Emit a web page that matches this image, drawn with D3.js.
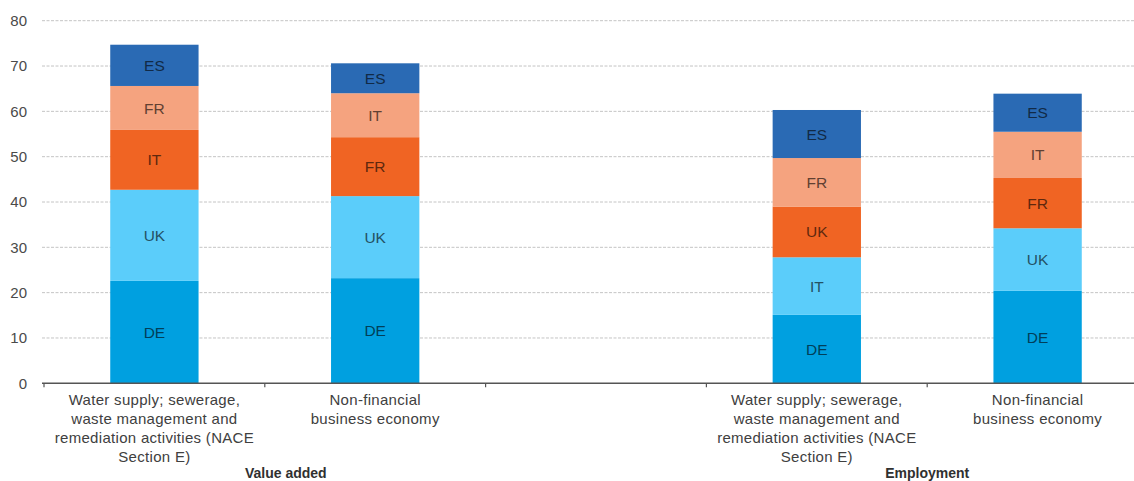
<!DOCTYPE html>
<html>
<head>
<meta charset="utf-8">
<script src="https://cdn.jsdelivr.net/npm/d3@7"></script>
<style>
  body { margin: 0; background: #fff; }
  text { font-family: "Liberation Sans", Arial, sans-serif; }
</style>
</head>
<body>
<script>
const width = 1134
const height = 481

// categories along the x axis ("blank" is the empty slot between the two groups)
const categories = ['va_e', 'va_nfbe', 'blank', 'emp_e', 'emp_nfbe']
const categoryLabels = {
    va_e: ['Water supply; sewerage,', 'waste management and', 'remediation activities (NACE', 'Section E)'],
    va_nfbe: ['Non-financial', 'business economy'],
    blank: [],
    emp_e: ['Water supply; sewerage,', 'waste management and', 'remediation activities (NACE', 'Section E)'],
    emp_nfbe: ['Non-financial', 'business economy']
}
const groups = [
    {name: 'Value added', cats: ['va_e', 'va_nfbe']},
    {name: 'Employment', cats: ['emp_e', 'emp_nfbe']}
]

// stacked layers from bottom to top: rank of country in each bar
const layers = ['r1', 'r2', 'r3', 'r4', 'r5']
const layerColors = ['#00a0e0', '#5bcdfa', '#f06423', '#f5a37f', '#2a6ab4']

// country shown in each layer of each bar
const countryLabels = {
    va_e:     ['DE', 'UK', 'IT', 'FR', 'ES'],
    va_nfbe:  ['DE', 'UK', 'FR', 'IT', 'ES'],
    emp_e:    ['DE', 'IT', 'UK', 'FR', 'ES'],
    emp_nfbe: ['DE', 'UK', 'FR', 'IT', 'ES']
}
// share (%) of each layer
const shares = {
    va_e:     [22.6, 20.1, 13.2, 9.7, 9.1],
    va_nfbe:  [23.2, 18.1, 13.0, 9.7, 6.6],
    emp_e:    [15.1, 12.7, 11.2, 10.7, 10.6],
    emp_nfbe: [20.4, 13.8, 11.1, 10.2, 8.4]
}
const yTicks = [0, 10, 20, 30, 40, 50, 60, 70, 80]

// build table for d3.stack
const table = categories.filter(c => shares[c]).map(c => {
    let row = {cat: c}
    layers.forEach((k, i) => row[k] = shares[c][i])
    return row
})

const x = d3.scaleBand()
    .domain(categories)
    .range([44, 1148])
    .paddingInner(0.6)
    .paddingOuter(0.3)

const y = d3.scaleLinear()
    .domain([0, 80])
    .range([383.3, 20.7])

const svg = d3.select('body').append('svg')
    .attr('width', width)
    .attr('height', height)

// gridlines
svg.append('g')
    .selectAll('line')
    .data(yTicks.filter(t => t > 0))
    .join('line')
    .attr('x1', 42)
    .attr('x2', width)
    .attr('y1', d => y(d))
    .attr('y2', d => y(d))
    .style('stroke', '#c4c4c4')
    .style('stroke-width', 1)
    .style('stroke-dasharray', '3,1.5')

// y axis labels
const yAxis = svg.append('g')
    .attr('transform', 'translate(42,0)')
    .call(d3.axisLeft(y).tickValues(yTicks).tickSize(0).tickPadding(15))
yAxis.select('.domain').remove()
yAxis.selectAll('text')
    .style('font-size', '15px')
    .style('fill', '#4a4a4a')

// stacked bars
const stacked = d3.stack().keys(layers)(table)

const layerG = svg.append('g')
    .selectAll('g')
    .data(stacked)
    .join('g')
    .style('fill', (d, i) => layerColors[i])

layerG.selectAll('rect')
    .data(d => d)
    .join('rect')
    .attr('x', d => x(d.data.cat))
    .attr('width', x.bandwidth())
    .attr('y', d => y(d[1]))
    .attr('height', d => y(d[0]) - y(d[1]))

// country labels inside segments
stacked.forEach((layer, i) => {
    svg.append('g')
        .selectAll('text')
        .data(layer)
        .join('text')
        .attr('x', d => x(d.data.cat) + x.bandwidth() / 2)
        .attr('y', d => (y(d[0]) + y(d[1])) / 2)
        .attr('dy', '0.36em')
        .attr('text-anchor', 'middle')
        .style('font-size', '15.5px')
        .style('fill', d3.color(layerColors[i]).darker(2.6).formatHex())
        .text(d => countryLabels[d.data.cat][i])
})

// x axis line and tick marks at band boundaries
svg.append('line')
    .attr('x1', 42)
    .attr('x2', width)
    .attr('y1', y(0))
    .attr('y2', y(0))
    .style('stroke', '#555')
    .style('stroke-width', 1.6)

const boundaries = categories.map(c => x(c) - x.step() * x.paddingInner() / 2)
svg.append('g')
    .selectAll('line')
    .data(boundaries)
    .join('line')
    .attr('x1', d => d)
    .attr('x2', d => d)
    .attr('y1', y(0))
    .attr('y2', y(0) + 4)
    .style('stroke', '#555')
    .style('stroke-width', 1.2)

// category labels
categories.forEach(c => {
    svg.append('text')
        .attr('x', x(c) + x.bandwidth() / 2)
        .attr('y', 405)
        .attr('text-anchor', 'middle')
        .style('font-size', '15px')
        .style('letter-spacing', '0.3px')
        .style('fill', '#404040')
        .selectAll('tspan')
        .data(categoryLabels[c])
        .join('tspan')
        .attr('x', x(c) + x.bandwidth() / 2)
        .attr('dy', (d, i) => i == 0 ? 0 : 19)
        .text(d => d)
})

// group labels (Value added sits a bit right of its group centre in the original)
const groupShift = [21, 0]
groups.forEach((g, i) => {
    let cx = (x(g.cats[0]) + x(g.cats[1]) + x.bandwidth()) / 2
    svg.append('text')
        .attr('x', cx + groupShift[i])
        .attr('y', 478)
        .attr('text-anchor', 'middle')
        .style('font-size', '14px')
        .style('font-weight', 'bold')
        .style('fill', '#303030')
        .text(g.name)
})
</script>
</body>
</html>
